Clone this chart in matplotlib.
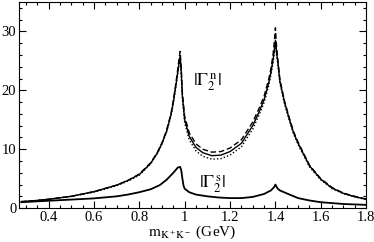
"""|Gamma_2| form factors vs m_KK"""
import matplotlib
matplotlib.use('Agg')
import matplotlib.pyplot as plt
from matplotlib.ticker import MultipleLocator

plt.rcParams['font.family'] = 'Liberation Serif'
plt.rcParams['mathtext.fontset'] = 'stix'

# |Gamma_2^n| : three variants (solid, dashed, dotted)
x_n = [0.28, 0.35, 0.40, 0.50, 0.60, 0.70, 0.75, 0.80, 0.85, 0.88, 0.90, 0.92,
       0.94, 0.95, 0.96, 0.97, 0.975, 0.98, 0.985, 0.99, 1.00, 1.02, 1.05, 1.08,
       1.12, 1.16, 1.20, 1.25, 1.30, 1.33, 1.35, 1.37, 1.38, 1.39, 1.395, 1.40,
       1.405, 1.41, 1.42, 1.44, 1.46, 1.48, 1.50, 1.55, 1.60, 1.65, 1.70, 1.75, 1.80]
gn_solid = [1.1, 1.3, 1.5, 2.0, 2.8, 3.9, 4.7, 5.7, 7.6, 9.4, 11.0, 13.0,
            15.9, 18.0, 20.5, 23.2, 24.6, 25.8, 23.0, 19.0, 15.0, 12.2, 10.3, 9.4,
            8.9, 9.0, 9.6, 11.0, 14.0, 16.5, 18.4, 21.2, 23.0, 25.3, 26.8, 28.5,
            26.5, 25.0, 21.5, 18.0, 15.3, 12.8, 11.0, 7.2, 4.9, 3.4, 2.5, 1.95, 1.5]
gn_dash = [1.1, 1.3, 1.5, 2.0, 2.8, 3.9, 4.7, 5.8, 7.7, 9.5, 11.1, 13.2,
           16.1, 18.3, 20.9, 23.7, 25.3, 26.6, 23.8, 19.6, 15.6, 12.8, 10.9, 10.0,
           9.5, 9.6, 10.2, 11.6, 14.6, 17.1, 19.0, 21.8, 23.6, 26.2, 28.2, 30.6,
           27.5, 25.5, 21.8, 18.2, 15.5, 13.0, 11.2, 7.3, 5.0, 3.5, 2.55, 2.0, 1.55]
gn_dot = [1.1, 1.3, 1.5, 2.0, 2.7, 3.8, 4.6, 5.6, 7.5, 9.3, 10.9, 12.9,
          15.7, 17.8, 20.3, 23.0, 24.4, 25.5, 22.6, 18.5, 14.5, 11.6, 9.7, 8.8,
          8.3, 8.4, 9.0, 10.4, 13.4, 16.0, 17.9, 20.7, 22.6, 24.8, 26.3, 28.0,
          26.0, 24.6, 21.2, 17.7, 15.0, 12.6, 10.8, 7.0, 4.8, 3.3, 2.45, 1.9, 1.45]

# |Gamma_2^s|
x_s = [0.28, 0.35, 0.40, 0.50, 0.60, 0.70, 0.75, 0.80, 0.85, 0.89, 0.92, 0.95,
       0.97, 0.98, 0.985, 0.99, 0.995, 1.00, 1.02, 1.05, 1.10, 1.15, 1.20, 1.25,
       1.30, 1.35, 1.38, 1.395, 1.40, 1.41, 1.42, 1.45, 1.50, 1.55, 1.60, 1.70, 1.80]
gs = [1.0, 1.15, 1.25, 1.45, 1.65, 2.0, 2.3, 2.7, 3.2, 3.9, 4.8, 6.0,
      6.9, 7.0, 6.4, 5.0, 3.8, 3.3, 2.7, 2.3, 2.0, 1.8, 1.7, 1.7,
      1.9, 2.4, 3.0, 3.6, 4.0, 3.3, 3.0, 2.5, 1.7, 1.3, 1.0, 0.7, 0.55]

fig = plt.figure(figsize=(3.74, 2.42), dpi=100)
ax = fig.add_axes([0.051, 0.14, 0.928, 0.852])

ax.plot(x_n, gn_solid, color='black', lw=1.0)
ax.plot(x_n, gn_dash, color='black', lw=1.0, ls=(0, (4, 2)))
ax.plot(x_n, gn_dot, color='black', lw=1.0, ls=(0, (1, 1.5)))
ax.plot(x_s, gs, color='black', lw=1.3)

ax.text(1.10, 21.3, r'$|\Gamma_2^{\;\mathrm{n}}|$', fontsize=13, ha='center', va='center')
ax.text(1.125, 4.1, r'$|\Gamma_2^{\;\mathrm{s}}|$', fontsize=13, ha='center', va='center')

ax.set_xlim(0.27, 1.8)
ax.set_ylim(0, 35)
ax.xaxis.set_major_locator(MultipleLocator(0.2))
ax.xaxis.set_minor_locator(MultipleLocator(0.05))
ax.yaxis.set_major_locator(MultipleLocator(10))
ax.yaxis.set_minor_locator(MultipleLocator(2))
ax.set_xticks([0.4, 0.6, 0.8, 1.0, 1.2, 1.4, 1.6, 1.8])
ax.set_xticklabels(['0.4', '0.6', '0.8', '1', '1.2', '1.4', '1.6', '1.8'])
ax.tick_params(which='both', direction='in', top=True, right=True, labelsize=10.5, pad=2)
ax.tick_params(which='major', length=5, width=0.8)
ax.tick_params(which='minor', length=2.5, width=0.8)
for s in ax.spines.values():
    s.set_linewidth(0.8)

ax.set_xlabel(r'$\mathrm{m_{K^+K^-}}$ (GeV)', fontsize=11, labelpad=0)

plt.savefig('out.png', dpi=100)
plt.close()
